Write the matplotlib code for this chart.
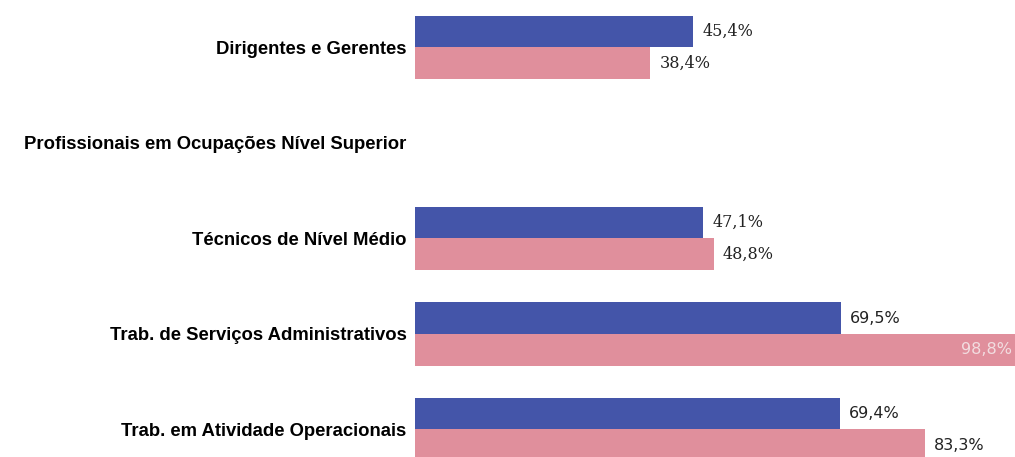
import matplotlib.pyplot as plt

categories = ["Dirigentes e Gerentes",
              "Profissionais em Ocupações Nível Superior",
              "Técnicos de Nível Médio",
              "Trab. de Serviços Administrativos",
              "Trab. em Atividade Operacionais"]
serie_a = [45.4, None, 47.1, 69.5, 69.4]
serie_b = [38.4, None, 48.8, 98.8, 83.3]
labels_a = ["45,4%", "", "47,1%", "69,5%", "69,4%"]
labels_b = ["38,4%", "", "48,8%", "98,8%", "83,3%"]

# the source mixes serif and sans labels
fonts_a = ['DejaVu Serif', None, 'DejaVu Serif', 'DejaVu Sans', 'DejaVu Sans']
fonts_b = ['DejaVu Serif', None, 'DejaVu Serif', 'DejaVu Sans', 'DejaVu Sans']

blue = '#4455a9'
pink = '#e08f9c'
h = 0.33

fig = plt.figure(figsize=(10.15, 4.57), dpi=100)
ax = fig.add_axes([415/1015, 0, 1 - 415/1015, 1])

for i, cat in enumerate(categories):
    if serie_a[i] is not None:
        ax.barh(i - h/2, serie_a[i], height=h, color=blue, edgecolor='none')
        ax.text(serie_a[i] + 1.5, i - h/2, labels_a[i], va='center', ha='left',
                family=fonts_a[i], fontsize=11.5, color='#222222')
    if serie_b[i] is not None:
        ax.barh(i + h/2, serie_b[i], height=h, color=pink, edgecolor='none')
        if serie_b[i] > 90:
            ax.text(97.5, i + h/2, labels_b[i], va='center', ha='right',
                    family=fonts_b[i], fontsize=11.5, color='#f2dde0')
        else:
            ax.text(serie_b[i] + 1.5, i + h/2, labels_b[i], va='center', ha='left',
                    family=fonts_b[i], fontsize=11.5, color='#222222')

ax.set_yticks(range(len(categories)))
ax.set_yticklabels(categories, family='Liberation Sans', fontweight='bold', fontsize=13.3)
ax.tick_params(axis='y', length=0, pad=6)
ax.set_xticks([])
ax.set_xlim(0, 98.0)
ax.set_ylim(4.288, -0.497)
for s in ax.spines.values():
    s.set_visible(False)

fig.savefig('out.png', dpi=100)
